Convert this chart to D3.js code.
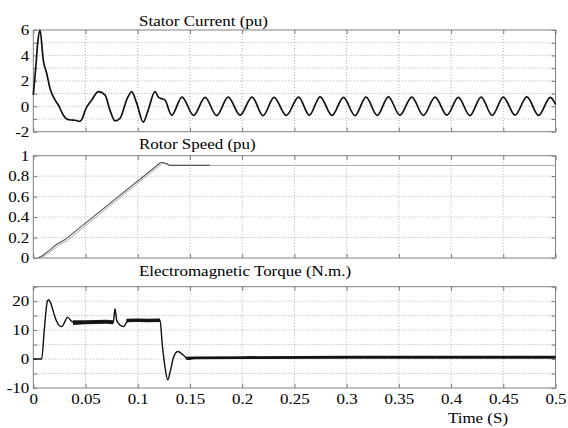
<!DOCTYPE html>
<html><head><meta charset="utf-8">
<script src="https://cdn.jsdelivr.net/npm/d3@7"></script>
<style>body{margin:0;background:#fff}svg{display:block}text{font-family:"Liberation Serif","Times New Roman",serif;fill:#000}</style>
</head><body><svg id="c" width="568" height="428"></svg>
<script>
const timeTicks = [0,0.05,0.1,0.15,0.2,0.25,0.3,0.35,0.4,0.45,0.5];
const timeLabels = ["0","0.05","0.1","0.15","0.2","0.25","0.3","0.35","0.4","0.45","0.5"];

const currentTicks = [-2,-1,0,1,2,3,4,5,6];
const currentLabels = ["-2","","0","","2","","4","","6"];
const currentT = [0,0.0025,0.0045,0.0064,0.0096,0.0128,0.016,0.0208,0.024,0.0288,0.032,0.036,0.040,0.0447,0.047,0.0495,0.056,0.0623,0.0686,0.0734,0.0782,0.083,0.0894,0.0942,0.099,0.1053,0.110,0.1165,0.120,0.123,0.126,0.1325,0.1424,0.1535,0.1645,0.1755,0.1866,0.198,0.2094,0.220,0.2305,0.2422,0.254,0.2643,0.2746,0.286,0.297,0.308,0.3186,0.3293,0.340,0.351,0.3624,0.3735,0.3847,0.396,0.407,0.418,0.4288,0.4394,0.450,0.4613,0.4726,0.4838,0.495,0.5];
const currentV = [0.9,3.2,5.2,6.0,3.6,2.6,1.4,0.5,0.1,-0.7,-1.0,-1.08,-1.1,-1.18,-0.95,-0.35,0.5,1.15,0.9,-0.3,-1.15,-0.95,0.5,1.15,0.25,-1.25,-0.3,1.15,0.7,0.6,0.5,-0.7,0.72,-0.72,0.7,-0.74,0.72,-0.7,0.72,-0.73,0.7,-0.72,0.72,-0.7,0.74,-0.72,0.7,-0.73,0.72,-0.72,0.74,-0.7,0.72,-0.72,0.72,-0.7,0.7,-0.74,0.72,-0.72,0.72,-0.7,0.74,-0.72,0.7,0.15];

const speedTicks = [0,0.2,0.4,0.6,0.8,1];
const speedLabels = ["0","0.2","0.4","0.6","0.8","1"];
const speedT = [0.0048,0.0096,0.016,0.0224,0.0304,0.1213,0.123,0.1277,0.131,0.169];
const speedV = [0,0.03,0.08,0.134,0.18,0.928,0.935,0.92,0.905,0.905];
const speedRefT = [0.0068,0.0116,0.018,0.0244,0.0324,0.1228,0.1245,0.129,0.132,0.5];
const speedRefV = [0,0.025,0.072,0.125,0.17,0.92,0.93,0.915,0.905,0.905];

const torqueTicks = [-10,-5,0,5,10,15,20,25];
const torqueLabels = ["-10","","0","","10","","20",""];
const torqueT = [0,0.008,0.0105,0.0135,0.0148,0.0165,0.0192,0.022,0.025,0.0272,0.0304,0.0326,0.0368,0.0416,0.05,0.06,0.07,0.0766,0.0782,0.0798,0.0814,0.0862,0.091,0.1,0.11,0.1213,0.1235,0.1262,0.1287,0.131,0.134,0.1383,0.1436,0.1485,0.155,0.2,0.3,0.4,0.5];
const torqueV = [0,0,10,20,20.5,19.5,16.4,13.3,11.5,11.2,13.0,14.5,13.0,12.4,12.7,12.8,12.9,12.6,17.4,13.5,12.4,11.2,13.3,13.4,13.3,13.5,5,-3,-7.2,-4.5,0.3,2.6,1.4,-0.1,0.4,0.5,0.6,0.6,0.6];
const noiseT  = [0.038,0.05,0.06,0.07,0.0766,null,0.089,0.1,0.11,0.1213,null,0.146,0.155,0.2,0.3,0.4,0.5];
const noiseLo = [11.8,12.0,12.1,12.2,12.0,null,12.7,12.8,12.7,12.8,null,-0.2,-0.1,0.0,0.1,0.1,0.1];
const noiseHi = [13.4,13.4,13.5,13.6,13.4,null,13.9,14.0,13.9,14.0,null,0.8,0.9,1.0,1.1,1.1,1.1];

const SX = 1.13;
const svg = d3.select("#c");
const x = d3.scaleLinear().domain([0,0.5]).range([33.3,555.5]);

const panels = [
  {top:30, bottom:131.7, domain:[-2,6], ticks:currentTicks, labels:currentLabels, title:"Stator Current (pu)", titleY:25.5},
  {top:155.7, bottom:258, domain:[0,1], ticks:speedTicks, labels:speedLabels, title:"Rotor Speed (pu)", titleY:149},
  {top:286.7, bottom:388, domain:[-10,25], ticks:torqueTicks, labels:torqueLabels, title:"Electromagnetic Torque (N.m.)", titleY:276}
];

panels.forEach((p,i)=>{
  p.y = d3.scaleLinear().domain(p.domain).range([p.bottom,p.top]);
  const g = svg.append("g");
  g.selectAll(".vg").data(timeTicks.slice(1,-1)).join("line")
    .attr("x1",d=>x(d)).attr("x2",d=>x(d)).attr("y1",p.top).attr("y2",p.bottom)
    .attr("stroke","#9a9a9a").attr("stroke-width",0.8).attr("stroke-dasharray","1,2");
  g.selectAll(".hg").data(p.ticks.filter(t=>t>p.domain[0]&&t<p.domain[1])).join("line")
    .attr("x1",x(0)).attr("x2",x(0.5)).attr("y1",d=>p.y(d)).attr("y2",d=>p.y(d))
    .attr("stroke","#9a9a9a").attr("stroke-width",0.8).attr("stroke-dasharray","1,2");
  const yl = d3.axisLeft(p.y).tickValues(p.ticks).tickSize(-4).tickPadding(4).tickFormat((d,k)=>p.labels[k]);
  const yr = d3.axisRight(p.y).tickValues(p.ticks).tickSize(-4).tickFormat("");
  const xb = d3.axisBottom(x).tickValues(timeTicks).tickSize(-4).tickFormat(i===2?((d,k)=>timeLabels[k]):"").tickPadding(5);
  const xt = d3.axisTop(x).tickValues(timeTicks).tickSize(-4).tickFormat("");
  [[yl,`translate(${x(0)},0)`,1],[yr,`translate(${x(0.5)},0)`,0],[xb,`translate(0,${p.bottom})`,2],[xt,`translate(0,${p.top})`,0]].forEach(([ax,tr,kind])=>{
    const a = g.append("g").attr("transform",tr).call(ax);
    a.select(".domain").remove();
    a.selectAll("line").attr("stroke","#777");
    const tx = a.selectAll("text").style("font-family",'"Liberation Serif",serif').style("font-size","15px").attr("fill","#000");
    if(kind===1) tx.attr("x",-4/SX).attr("transform",`scale(${SX},1)`);
    if(kind===2) tx.attr("transform",`scale(${SX},1)`);
  });
  g.append("rect").attr("x",x(0)).attr("y",p.top).attr("width",x(0.5)-x(0)).attr("height",p.bottom-p.top)
    .attr("fill","none").attr("stroke","#808080").attr("stroke-width",1);
  g.append("text").attr("transform",`translate(139,${p.titleY}) scale(${SX},1)`).style("font-size","15px").text(p.title);
});

const P1 = panels[0];
svg.append("path").datum(currentT.map((t,k)=>[t,currentV[k]]))
  .attr("d",d3.line().x(d=>x(d[0])).y(d=>P1.y(d[1])).curve(d3.curveMonotoneX))
  .attr("fill","none").attr("stroke","#111").attr("stroke-width",1.7);

const P2 = panels[1];
svg.append("path").datum(speedRefT.map((t,k)=>[t,speedRefV[k]]))
  .attr("d",d3.line().x(d=>x(d[0])).y(d=>P2.y(d[1])))
  .attr("fill","none").attr("stroke","#a8a8a8").attr("stroke-width",1);
svg.append("path").datum(speedT.map((t,k)=>[t,speedV[k]]))
  .attr("d",d3.line().x(d=>x(d[0])).y(d=>P2.y(d[1])))
  .attr("fill","none").attr("stroke","#555").attr("stroke-width",1.1);

const P3 = panels[2];
svg.append("path").datum(noiseT.map((t,k)=>[t,noiseLo[k],noiseHi[k]]))
  .attr("d",d3.area().defined(d=>d[0]!==null).x(d=>x(d[0])).y0(d=>P3.y(d[1])).y1(d=>P3.y(d[2])))
  .attr("fill","#1a1a1a");
svg.append("path").datum(torqueT.map((t,k)=>[t,torqueV[k]]))
  .attr("d",d3.line().x(d=>x(d[0])).y(d=>P3.y(d[1])).curve(d3.curveMonotoneX))
  .attr("fill","none").attr("stroke","#111").attr("stroke-width",1.4);

svg.append("text").attr("transform",`translate(478,423) scale(${SX},1)`).attr("text-anchor","middle").style("font-size","15px").text("Time (S)");
</script></body></html>
